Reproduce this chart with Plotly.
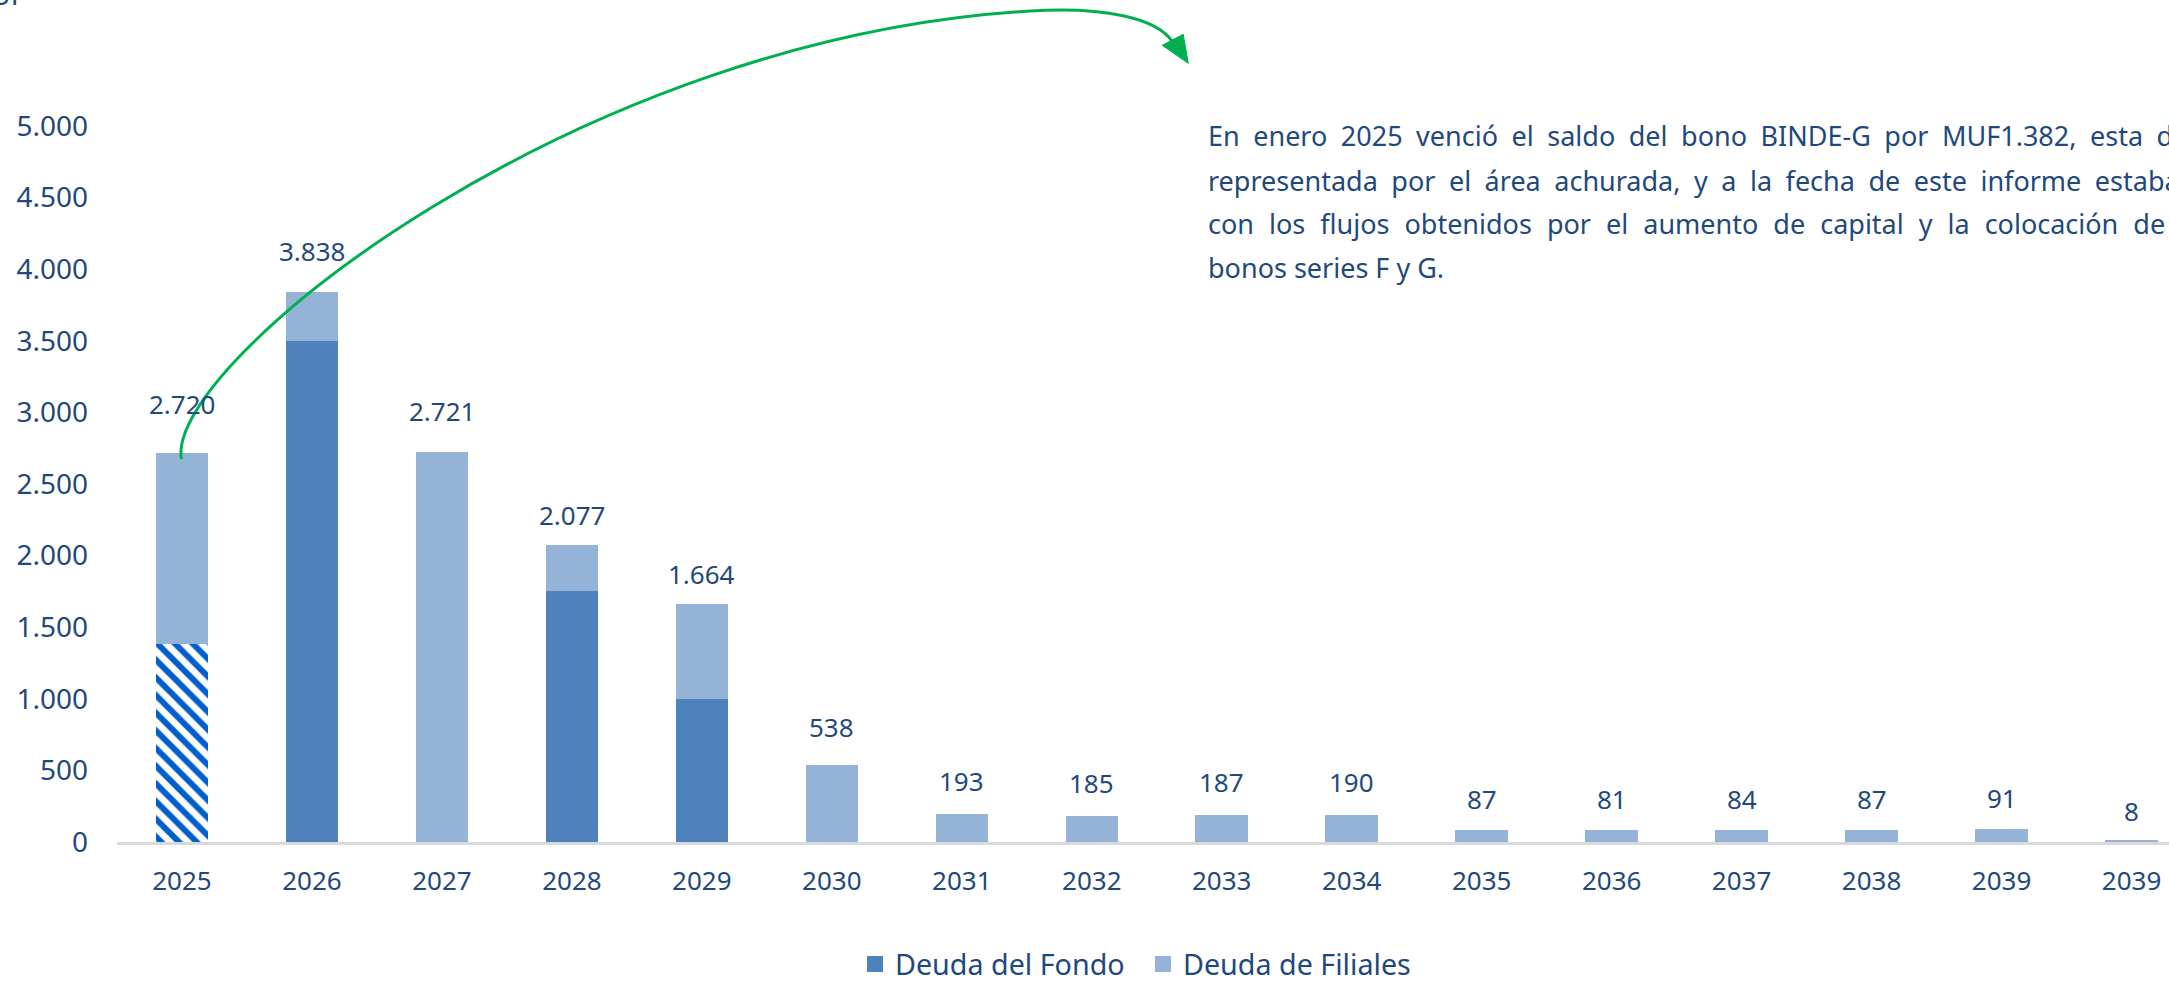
import plotly.graph_objects as go

# ---------------- data ----------------
categories = ["2025", "2026", "2027", "2028", "2029", "2030", "2031", "2032",
              "2033", "2034", "2035", "2036", "2037", "2038", "2039", "2039"]
deuda_fondo = [1382, 3500, 0, 1750, 1000, 0, 0, 0, 0, 0, 0, 0, 0, 0, 0, 0]
deuda_filiales = [1338, 338, 2721, 327, 664, 538, 193, 185, 187, 190, 87, 81, 84, 87, 91, 8]
fondo_achurado = ["2025"]          # vencida en enero 2025 (área achurada)
y_ticks = [0, 500, 1000, 1500, 2000, 2500, 3000, 3500, 4000, 4500, 5000]
nota = [
    "En enero 2025 venció el saldo del bono BINDE-G por MUF1.382, esta deuda está",
    "representada por el área achurada, y a la fecha de este informe estaba pagada",
    "con los flujos obtenidos por el aumento de capital y la colocación de los",
    "bonos series F y G.",
]

# ---------------- style ----------------
FONT = "Noto Sans"
TXT = "#1F497D"
C_FONDO = "#4F81BD"
C_FIL = "#95B3D7"
C_HATCH = "#005FCC"
GREEN = "#00B050"
label_shift_px = [29, 21, 21, 10, 10, 18, 13, 13, 13, 13, 11, 11, 11, 11, 11, 10]

W, H = 2169, 983
L, T = 116.5, 125.7
B_PX = 841.7
PW, PH = W - L, B_PX - T


def px(x):
    return (x - L) / PW


def py(y):
    return (B_PX - y) / PH


x = list(range(len(categories)))
hatched = [c in fondo_achurado and i == categories.index(c) for i, c in enumerate(categories)]
fondo_hatch = [v if h else 0 for v, h in zip(deuda_fondo, hatched)]
fondo_solid = [0 if h else v for v, h in zip(deuda_fondo, hatched)]
totals = [a + b for a, b in zip(deuda_fondo, deuda_filiales)]

fig = go.Figure()
fig.add_trace(go.Bar(
    x=x, y=fondo_hatch, showlegend=False, hoverinfo="skip",
    marker=dict(color=C_HATCH, line=dict(width=0),
                pattern=dict(shape="\\", fgcolor=C_HATCH, bgcolor="white",
                             fgopacity=1, size=12.5, solidity=0.48)),
))
fig.add_trace(go.Bar(
    x=x, y=fondo_solid, name="Deuda del Fondo", showlegend=False,
    marker=dict(color=C_FONDO, line=dict(width=0)),
))
fig.add_trace(go.Bar(
    x=x, y=deuda_filiales, name="Deuda de Filiales", showlegend=False,
    marker=dict(color=C_FIL, line=dict(width=0)),
))
# legend entries (square swatches)
for name, col in [("Deuda del Fondo", C_FONDO), ("Deuda de Filiales", C_FIL)]:
    fig.add_trace(go.Scatter(
        x=[None], y=[None], mode="markers", name=name,
        marker=dict(symbol="square", size=18, color=col),
    ))


def fmt(v):
    return f"{v:,}".replace(",", ".")


annotations = []
for xi, t, sh in zip(x, totals, label_shift_px):
    annotations.append(dict(
        x=xi, y=t, xref="x", yref="y", text=fmt(t), showarrow=False,
        yanchor="bottom", yshift=sh, font=dict(family=FONT, size=26, color=TXT),
    ))

# note text (justified look via word spacing)
line_y = [135, 180, 223, 267]
spacing = [6.5, 6.5, 8, 0]
for txt, yy, ws in zip(nota, line_y, spacing):
    annotations.append(dict(
        x=px(1206), y=py(yy), xref="paper", yref="paper",
        text=f'<span style="word-spacing:{ws}px">{txt}</span>' if ws else txt,
        showarrow=False, xanchor="left", yanchor="middle", align="left",
        font=dict(family=FONT, size=27, color=TXT),
    ))

# axis unit, cut off at top
annotations.append(dict(
    x=px(26), y=py(15), xref="paper", yref="paper", text="MUF",
    showarrow=False, xanchor="right", yanchor="bottom",
    font=dict(family=FONT, size=28, color=TXT),
))

curve = (f"M {px(181)},{py(459)} "
         f"C {px(163)},{py(365)} {px(580)},{py(30)} {px(1045)},{py(10)} "
         f"C {px(1100)},{py(8)} {px(1155)},{py(16)} {px(1172)},{py(41)}")
head = (f"M {px(1188)},{py(63)} L {px(1183)},{py(34)} L {px(1162)},{py(45)} Z")

shapes = [
    dict(type="path", path=curve, xref="paper", yref="paper",
         line=dict(color=GREEN, width=3)),
    dict(type="path", path=head, xref="paper", yref="paper",
         fillcolor=GREEN, line=dict(color=GREEN, width=1)),
]

fig.update_layout(
    width=W, height=H,
    margin=dict(l=L, r=0, t=T, b=H - B_PX, autoexpand=False),
    paper_bgcolor="white", plot_bgcolor="white",
    barmode="stack", bargap=0.596,
    separators=",.",
    font=dict(family=FONT, color=TXT),
    xaxis=dict(
        range=[-0.5, -0.5 + PW / 130.0], tickmode="array", tickvals=x,
        ticktext=categories, showgrid=False, zeroline=False,
        showline=True, linecolor="#D9D9D9", linewidth=2.5, ticks="",
        tickfont=dict(family=FONT, size=26, color=TXT), ticklabelstandoff=14,
        fixedrange=True,
    ),
    yaxis=dict(
        range=[0, 5000], tickmode="array", tickvals=y_ticks,
        ticktext=[fmt(v) for v in y_ticks], showgrid=False, zeroline=False,
        showline=False, ticks="",
        tickfont=dict(family=FONT, size=28, color=TXT), ticklabelstandoff=28,
        fixedrange=True,
    ),
    legend=dict(
        orientation="h", x=0.5, xanchor="center", y=py(964), yanchor="middle",
        font=dict(family=FONT, size=28.7, color=TXT), traceorder="normal",
        itemclick=False, itemdoubleclick=False, itemsizing="trace",
        entrywidth=243, entrywidthmode="pixels",
    ),
    annotations=annotations,
    shapes=shapes,
)

fig.write_html(
    "out.html",
    config={"displayModeBar": False},
    post_script="document.body.style.margin='0';document.body.style.overflow='hidden';",
)
